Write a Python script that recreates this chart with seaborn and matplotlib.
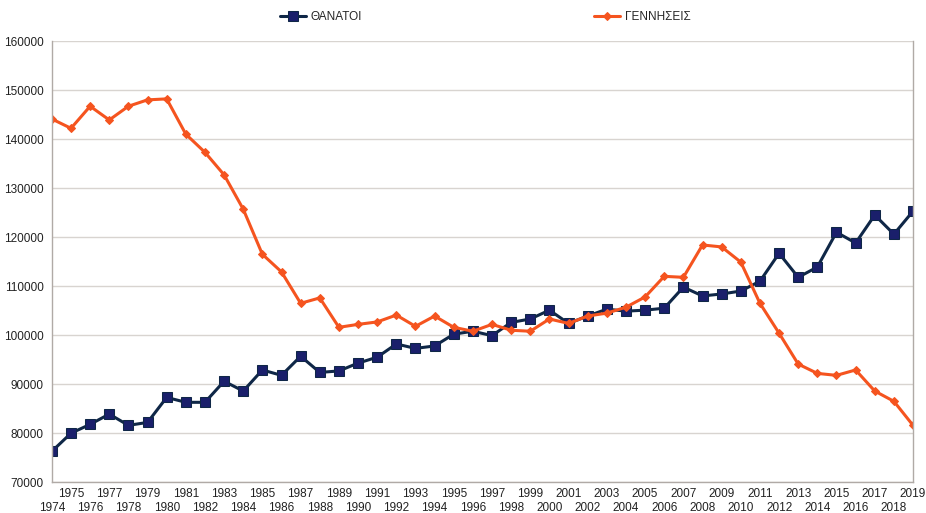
import matplotlib
matplotlib.use("Agg")
import matplotlib.pyplot as plt
import pandas as pd
import seaborn as sns

# Data
years = list(range(1974, 2020))
deaths = [76300, 80000, 81800, 83900, 81600, 82200, 87300, 86300, 86300, 90600,
          88600, 92900, 91800, 95700, 92400, 92700, 94300, 95500, 98200, 97300,
          97800, 100200, 100800, 99900, 102600, 103300, 105100, 102400, 103900, 105300,
          104900, 105100, 105500, 109800, 108000, 108400, 109000, 111000, 116700, 111800,
          113900, 121000, 118800, 124500, 120600, 125300]
births = [144100, 142200, 146700, 143900, 146700, 148000, 148200, 141000, 137300, 132700,
          125700, 116500, 112900, 106500, 107600, 101600, 102200, 102700, 104100, 101800,
          103900, 101600, 100800, 102200, 101000, 100800, 103300, 102400, 103900, 104500,
          105700, 107800, 112000, 111800, 118400, 118000, 114900, 106500, 100400, 94100,
          92200, 91800, 92900, 88600, 86500, 81600]
y_ticks = list(range(70000, 160001, 10000))

df = pd.DataFrame({"year": years, "ΘΑΝΑΤΟΙ": deaths, "ΓΕΝΝΗΣΕΙΣ": births})

sns.set_style("white")
plt.rcParams["font.family"] = ["Liberation Sans", "DejaVu Sans"]

fig, ax = plt.subplots(figsize=(9.26, 5.13), dpi=100)
fig.subplots_adjust(left=0.056, right=0.986, top=0.92, bottom=0.06)

sns.lineplot(data=df, x="year", y="ΘΑΝΑΤΟΙ", ax=ax, color="#0f2747", lw=2.2,
             marker="s", markersize=6.5, markerfacecolor="#1a1f6b",
             markeredgecolor="#0f2747", label="ΘΑΝΑΤΟΙ")
sns.lineplot(data=df, x="year", y="ΓΕΝΝΗΣΕΙΣ", ax=ax, color="#f5541f", lw=2.2,
             marker="D", markersize=4.5, markerfacecolor="#f5541f",
             markeredgecolor="#f5541f", label="ΓΕΝΝΗΣΕΙΣ")

ax.set_xlim(years[0], years[-1])
ax.set_ylim(70000, 160000)
ax.set_yticks(y_ticks)
ax.set_yticklabels([str(v) for v in y_ticks])

# odd years on the upper row, even years on the lower row
odd_years = [y for y in years if y % 2]
even_years = [y for y in years if not y % 2]
ax.set_xticks(odd_years)
ax.set_xticklabels([str(y) for y in odd_years])
ax.set_xticks(even_years, minor=True)
ax.set_xticklabels([str(y) for y in even_years], minor=True)
ax.set_xlabel("")
ax.set_ylabel("")
ax.tick_params(axis="both", which="both", labelsize=8.5, colors="#222222",
               length=3, width=0.8, color="#aaaaaa")
ax.tick_params(axis="y", pad=3)
ax.tick_params(axis="x", which="major", pad=1.5)
ax.tick_params(axis="x", which="minor", pad=11.5)

ax.grid(axis="y", color="#d8d4d0", lw=1)
ax.grid(axis="x", which="both", visible=False)
for side in ["left", "bottom", "right"]:
    ax.spines[side].set_color("#b0aaa6")
    ax.spines[side].set_linewidth(1)
ax.spines["top"].set_visible(False)

ax.legend_.remove()
handles, labels = ax.get_legend_handles_labels()
fig.legend(handles, labels, loc="center", bbox_to_anchor=(0.524, 0.967), ncol=2,
           frameon=False, fontsize=8.5, columnspacing=19.7, handlelength=2.2,
           handletextpad=0.4)

fig.savefig("out.png", dpi=100)
